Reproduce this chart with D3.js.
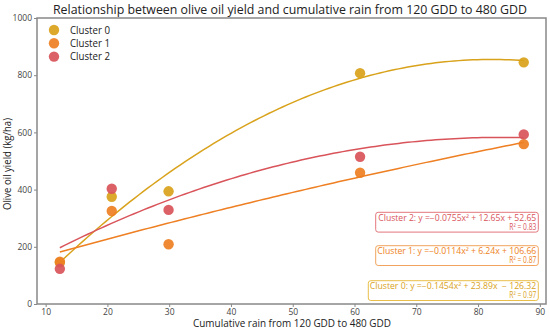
<!DOCTYPE html>
<html><head><meta charset="utf-8">
<script src="https://cdn.jsdelivr.net/npm/d3@7"></script>
<style>body{margin:0;background:#fff}svg{display:block;font-family:"Open Sans",sans-serif}</style>
</head><body><svg id="c" width="550" height="332"></svg>
<script>
const clusters = ["Cluster 0","Cluster 1","Cluster 2"];
const colors = ["#D9A21B","#EE7F22","#D9545A"];
const xs0 = [12.3, 20.7, 29.9, 60.9, 87.4];
const ys0 = [145, 375, 394, 807, 845];
const xs1 = [12.3, 20.7, 29.9, 60.9, 87.4];
const ys1 = [148, 325, 209, 459, 559];
const xs2 = [12.3, 20.7, 29.9, 60.9, 87.4];
const ys2 = [123, 403, 329, 515, 593];
const coefA = [-0.1454, -0.0114, -0.0755];
const coefB = [23.89, 6.24, 12.65];
const coefC = [-126.32, 106.66, 52.65];
const r2 = ["0.97","0.87","0.83"];
const eqText = ["Cluster 0: y =\u22120.1454x\u00B2 + 23.89x  \u2212 126.32",
                "Cluster 1: y =\u22120.0114x\u00B2 + 6.24x + 106.66",
                "Cluster 2: y =\u22120.0755x\u00B2 + 12.65x + 52.65"];
const xTicks = [10,20,30,40,50,60,70,80,90];
const yTicks = [0,200,400,600,800,1000];

const svg = d3.select("#c");
const L=37,R=546,T=18,B=304;
const x = d3.scaleLinear().domain([8.6,91]).range([L,R]);
const y = d3.scaleLinear().domain([0,1000]).range([B,T]);
const axisCol = "#888";

// title
svg.append("text").attr("x",290).attr("y",13.5).attr("text-anchor","middle")
  .attr("font-size",12.2).attr("fill","#222")
  .attr("textLength",474).attr("lengthAdjust","spacingAndGlyphs")
  .text("Relationship between olive oil yield and cumulative rain from 120 GDD to 480 GDD");

// axes
const gx = svg.append("g").attr("transform",`translate(0,${B})`)
  .call(d3.axisBottom(x).tickValues(xTicks).tickFormat(d3.format("d")).tickSize(3).tickPadding(2));
const gy = svg.append("g").attr("transform",`translate(${L},0)`)
  .call(d3.axisLeft(y).tickValues(yTicks).tickFormat(d3.format("d")).tickSize(3).tickPadding(2));
[gx,gy].forEach(g=>{
  g.select(".domain").remove();
  g.selectAll("line").attr("stroke",axisCol);
  g.selectAll("text").attr("fill","#444").attr("font-size",8.5).attr("font-family","'Open Sans',sans-serif");
});
svg.append("rect").attr("x",L).attr("y",T).attr("width",R-L).attr("height",B-T)
  .attr("fill","none").attr("stroke",axisCol).attr("stroke-width",1.5);

// axis labels
svg.append("text").attr("x",292).attr("y",327).attr("text-anchor","middle")
  .attr("font-size",10.5).attr("fill","#222")
  .attr("textLength",198).attr("lengthAdjust","spacingAndGlyphs")
  .text("Cumulative rain from 120 GDD to 480 GDD");
svg.append("text").attr("transform",`translate(11,164) rotate(-90)`).attr("text-anchor","middle")
  .attr("font-size",10.5).attr("fill","#222")
  .attr("textLength",92).attr("lengthAdjust","spacingAndGlyphs")
  .text("Olive oil yield (kg/ha)");

const data = [[xs0,ys0],[xs1,ys1],[xs2,ys2]];

// fit curves
const line = d3.line().x(d=>x(d[0])).y(d=>y(d[1]));
data.forEach(([xs],i)=>{
  const lo=d3.min(xs), hi=d3.max(xs);
  const pts=d3.range(0,101).map(k=>{const xv=lo+(hi-lo)*k/100;return [xv,coefA[i]*xv*xv+coefB[i]*xv+coefC[i]];});
  svg.append("path").attr("d",line(pts)).attr("fill","none").attr("stroke",colors[i]).attr("stroke-width",1.5);
});

// points
data.forEach(([xs,ys],i)=>{
  svg.append("g").selectAll("circle").data(xs.map((v,k)=>[v,ys[k]])).join("circle")
    .attr("cx",d=>x(d[0])).attr("cy",d=>y(d[1])).attr("r",5.2)
    .attr("fill",colors[i]).attr("opacity",0.92);
});

// legend
clusters.forEach((c,i)=>{
  svg.append("circle").attr("cx",54).attr("cy",30+i*13.3).attr("r",5.2).attr("fill",colors[i]).attr("opacity",0.92);
  svg.append("text").attr("x",70).attr("y",30+i*13.3+3.7).attr("font-size",10.5).attr("fill","#222")
    .attr("textLength",40).attr("lengthAdjust","spacingAndGlyphs").text(c);
});

// annotation boxes
const boxTop = [280.7, 245.7, 212.3];
const boxLeft = [368.3, 375.7, 375.7];
const eqWidth = [166.5, 159, 158];
const boxRight = 538.3;
const boxCol = ["#E9BE4A","#F2A45E","#E3777C"];
[2,1,0].forEach(i=>{
  svg.append("rect").attr("x",boxLeft[i]).attr("y",boxTop[i]).attr("width",boxRight-boxLeft[i]).attr("height",19.8)
    .attr("rx",2.5).attr("fill","#fff").attr("stroke",boxCol[i]).attr("stroke-width",1);
  svg.append("text").attr("x",boxRight-2).attr("y",boxTop[i]+8.4).attr("text-anchor","end")
    .attr("font-size",8.3).attr("fill",colors[i]).attr("xml:space","preserve")
    .attr("textLength",eqWidth[i]).attr("lengthAdjust","spacingAndGlyphs").text(eqText[i]);
  svg.append("text").attr("x",boxRight-2).attr("y",boxTop[i]+17.2).attr("text-anchor","end")
    .attr("font-size",8.3).attr("fill",colors[i])
    .attr("textLength",27).attr("lengthAdjust","spacingAndGlyphs").text("R\u00B2 = "+r2[i]);
});
</script></body></html>
